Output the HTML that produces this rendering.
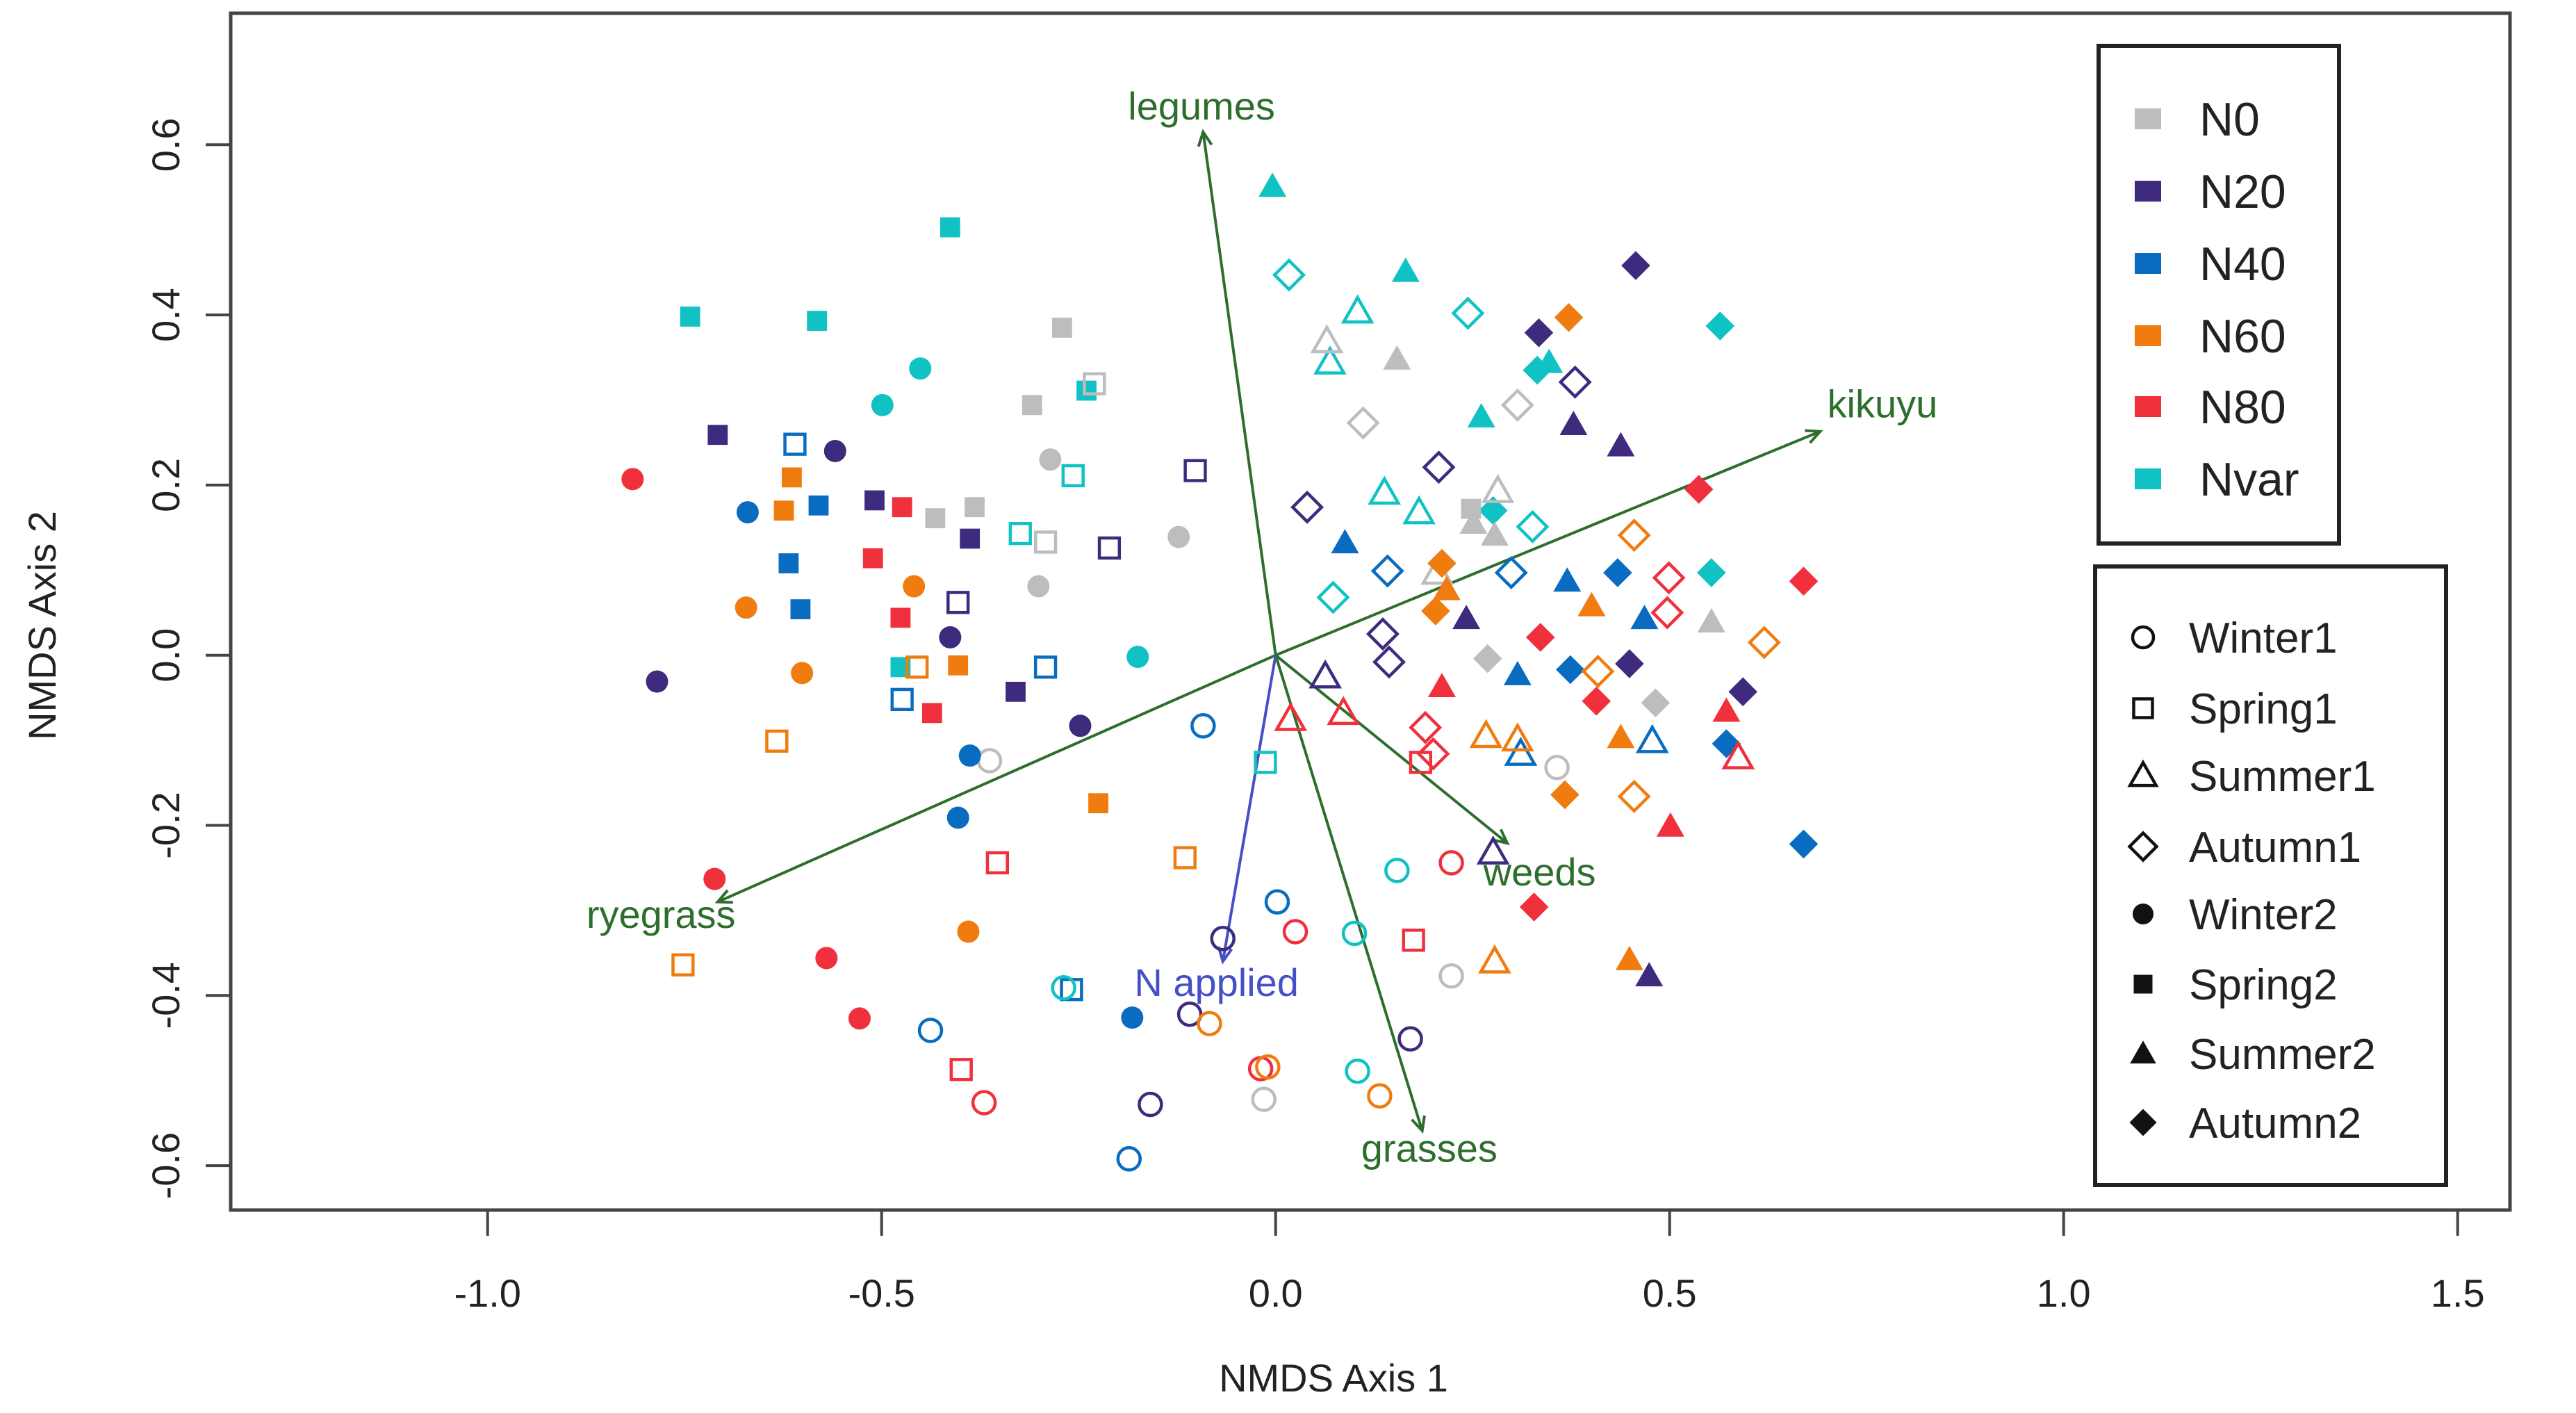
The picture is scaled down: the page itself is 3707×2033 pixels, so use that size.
<!DOCTYPE html>
<html><head><meta charset="utf-8"><style>
html,body{margin:0;padding:0;background:#fff;}
svg{display:block;font-family:"Liberation Sans",Arial,sans-serif;}
</style></head><body>
<svg id="chart" width="3707" height="2033" viewBox="0 0 3707 2033" xmlns="http://www.w3.org/2000/svg">
<rect x="0" y="0" width="3707" height="2033" fill="#fff"/>
<rect x="332" y="19" width="3280" height="1722" fill="none" stroke="#444" stroke-width="5"/>
<g id="axes"></g>
<g id="arrows"></g>
<g id="points"></g>
<text x="1919" y="2002" font-size="56" text-anchor="middle" fill="#222">NMDS Axis 1</text>
<text x="0" y="0" font-size="56" text-anchor="middle" fill="#222" transform="translate(80,900) rotate(-90)">NMDS Axis 2</text>
<rect x="3020" y="66" width="346" height="716" fill="#fff" stroke="#222" stroke-width="6"/>
<rect x="3015" y="815" width="505" height="890" fill="#fff" stroke="#222" stroke-width="6"/>
<g id="legend"></g>
</svg>
<script>
const NS='http://www.w3.org/2000/svg';
const groupNames=['N0','N20','N40','N60','N80','Nvar'];
const groupColors=['#bdbdbd','#3e2b7e','#0a6cc0','#f07c10','#f0303c','#10c2c4'];
const seasonNames=['Winter1','Spring1','Summer1','Autumn1','Winter2','Spring2','Summer2','Autumn2'];
const xTicks=[-1.0,-0.5,0.0,0.5,1.0,1.5];
const yTicks=[-0.6,-0.4,-0.2,0.0,0.2,0.4,0.6];
// points: [x, y, group index, season index (0-3 open c,s,t,d ; 4-7 filled c,s,t,d)]
const pointsX=[];const pointsY=[];const pointsG=[];const pointsS=[];
const rawPoints=[
[-0.743,0.398,5,5],[-0.413,0.503,5,5],[-0.582,0.393,5,5],[-0.240,0.311,5,5],
[-0.451,0.337,5,4],[-0.499,0.294,5,4],[-0.175,-0.002,5,4],[-0.476,-0.014,5,5],
[-0.271,0.385,0,5],[-0.309,0.294,0,5],[-0.230,0.319,0,1],[-0.286,0.230,0,4],[-0.301,0.081,0,4],[-0.123,0.139,0,4],
[-0.382,0.174,0,5],[-0.432,0.161,0,5],[-0.292,0.133,0,1],[-0.363,-0.124,0,0],
[-0.708,0.259,1,5],[-0.509,0.182,1,5],[-0.388,0.137,1,5],[-0.330,-0.043,1,5],
[-0.559,0.240,1,4],[-0.413,0.021,1,4],[-0.248,-0.083,1,4],[-0.785,-0.031,1,4],
[-0.102,0.217,1,1],[-0.403,0.062,1,1],[-0.211,0.126,1,1],
[-0.580,0.176,2,5],[-0.618,0.108,2,5],[-0.603,0.054,2,5],
[-0.670,0.168,2,4],[-0.388,-0.118,2,4],[-0.403,-0.191,2,4],[-0.182,-0.426,2,4],
[-0.610,0.248,2,1],[-0.474,-0.052,2,1],[-0.292,-0.014,2,1],[-0.259,-0.393,2,1],
[-0.816,0.207,4,4],[-0.712,-0.263,4,4],[-0.570,-0.356,4,4],[-0.528,-0.427,4,4],
[-0.511,0.114,4,5],[-0.474,0.174,4,5],[-0.476,0.044,4,5],[-0.436,-0.068,4,5],[-0.353,-0.244,4,1],
[-0.614,0.209,3,5],[-0.624,0.170,3,5],[-0.403,-0.012,3,5],[-0.225,-0.174,3,5],
[-0.672,0.056,3,4],[-0.459,0.081,3,4],[-0.601,-0.021,3,4],[-0.390,-0.325,3,4],
[-0.633,-0.101,3,1],[-0.752,-0.364,3,1],[-0.455,-0.014,3,1],[-0.115,-0.238,3,1],
[-0.257,0.211,5,1],[-0.324,0.143,5,1],[-0.013,-0.126,5,1],
[-0.269,-0.391,5,0],[0.100,-0.327,5,0],[0.104,-0.489,5,0],[0.154,-0.253,5,0],
[-0.438,-0.441,2,0],[-0.186,-0.592,2,0],[-0.092,-0.083,2,0],[0.002,-0.290,2,0],
[-0.159,-0.528,1,0],[-0.109,-0.422,1,0],[-0.067,-0.333,1,0],[0.171,-0.451,1,0],
[-0.370,-0.526,4,0],[-0.019,-0.486,4,0],[0.025,-0.325,4,0],[0.223,-0.244,4,0],
[-0.084,-0.433,3,0],[-0.010,-0.484,3,0],[0.132,-0.518,3,0],
[-0.015,-0.522,0,0],[0.223,-0.377,0,0],[0.357,-0.132,0,0],
[-0.399,-0.487,4,1],[0.175,-0.335,4,1],[0.184,-0.126,4,1],
[-0.004,0.551,5,6],[0.165,0.451,5,6],[0.261,0.280,5,6],[0.347,0.344,5,6],
[0.332,0.335,5,7],[0.564,0.387,5,7],[0.553,0.097,5,7],[0.276,0.170,5,7],
[0.017,0.447,5,3],[0.244,0.402,5,3],[0.073,0.068,5,3],[0.326,0.151,5,3],
[0.104,0.404,5,2],[0.069,0.344,5,2],[0.138,0.191,5,2],[0.182,0.168,5,2],
[0.065,0.369,0,2],[0.282,0.193,0,2],[0.111,0.273,0,3],[0.307,0.294,0,3],
[0.154,0.348,0,6],[0.251,0.155,0,6],[0.278,0.141,0,6],[0.248,0.172,0,5],
[0.269,-0.004,0,7],[0.482,-0.056,0,7],[0.553,0.039,0,6],[0.205,0.097,0,2],
[0.334,0.379,1,7],[0.457,0.458,1,7],[0.449,-0.010,1,7],[0.593,-0.043,1,7],
[0.378,0.271,1,6],[0.438,0.246,1,6],[0.242,0.043,1,6],[0.474,-0.377,1,6],
[0.380,0.321,1,3],[0.207,0.221,1,3],[0.040,0.174,1,3],[0.136,0.025,1,3],[0.144,-0.008,1,3],
[0.063,-0.025,1,2],[0.276,-0.232,1,2],
[0.088,0.132,2,6],[0.370,0.087,2,6],[0.307,-0.023,2,6],[0.468,0.043,2,6],
[0.434,0.097,2,7],[0.374,-0.017,2,7],[0.572,-0.104,2,7],[0.670,-0.222,2,7],
[0.142,0.099,2,3],[0.299,0.097,2,3],[0.478,-0.101,2,2],[0.311,-0.116,2,2],
[0.372,0.397,3,7],[0.367,-0.164,3,7],[0.211,0.108,3,7],[0.203,0.052,3,7],
[0.217,0.077,3,6],[0.401,0.058,3,6],[0.438,-0.097,3,6],[0.449,-0.358,3,6],
[0.455,0.141,3,3],[0.409,-0.019,3,3],[0.455,-0.166,3,3],[0.620,0.015,3,3],
[0.267,-0.095,3,2],[0.307,-0.099,3,2],[0.278,-0.360,3,2],
[0.537,0.195,4,7],[0.670,0.087,4,7],[0.328,-0.296,4,7],[0.336,0.021,4,7],[0.407,-0.054,4,7],
[0.572,-0.066,4,6],[0.501,-0.201,4,6],[0.211,-0.037,4,6],
[0.499,0.091,4,3],[0.497,0.050,4,3],[0.190,-0.085,4,3],[0.200,-0.116,4,3],
[0.587,-0.120,4,2],[0.019,-0.075,4,2],[0.086,-0.068,4,2]
];
const arrowNames=['legumes','kikuyu','ryegrass','weeds','grasses','N applied'];
const arrowX=[-0.092,0.691,-0.708,0.294,0.186,-0.067];
const arrowY=[0.615,0.263,-0.290,-0.221,-0.559,-0.360];
const arrowLabelX=[-0.094,0.77,-0.78,0.335,0.195,-0.075];
const arrowLabelY=[0.645,0.295,-0.305,-0.255,-0.580,-0.385];
const arrowColors=['#2d6e2d','#2d6e2d','#2d6e2d','#2d6e2d','#2d6e2d','#4550c8'];

rawPoints.forEach(p=>{pointsX.push(p[0]);pointsY.push(p[1]);pointsG.push(p[2]);pointsS.push(p[3]);});
const X=v=>1835.7+v*1134;
const Y=v=>942.7-v*1224;
function el(tag,attrs,parent){const e=document.createElementNS(NS,tag);for(const k in attrs)e.setAttribute(k,attrs[k]);parent.appendChild(e);return e;}
const axes=document.getElementById('axes');
xTicks.forEach(t=>{
  const l=el('line',{x1:X(t),x2:X(t),y1:1741,y2:1778,stroke:'#444','stroke-width':4},axes);
  
  
  const tx=el('text',{x:X(t),y:1880,'font-size':56,'text-anchor':'middle',fill:'#222'},axes);
  tx.textContent=t.toFixed(1);
  
  
});
yTicks.forEach(t=>{
  const l=el('line',{x1:296,x2:332,y1:Y(t),y2:Y(t),stroke:'#444','stroke-width':4},axes);
  
  
  const tx=el('text',{x:0,y:0,'font-size':56,'text-anchor':'middle',fill:'#222',transform:`translate(258,${Y(t)}) rotate(-90)`},axes);
  tx.textContent=t.toFixed(1);
  
  
});
function marker(parent,cx,cy,s,color,r){
  const filled=s>=4;const k=s%4;
  const fill=filled?color:'none';const sw=filled?0:4.5;
  let m;
  if(k===0)m=el('circle',{cx:cx,cy:cy,r:r,fill:fill,stroke:color,'stroke-width':sw},parent);
  else if(k===1)m=el('rect',{x:cx-r*0.9,y:cy-r*0.9,width:r*1.8,height:r*1.8,fill:fill,stroke:color,'stroke-width':sw},parent);
  else if(k===2){const h=r*1.25;m=el('polygon',{points:`${cx},${cy-h} ${cx+h},${cy+h*0.75} ${cx-h},${cy+h*0.75}`,fill:fill,stroke:color,'stroke-width':sw},parent);}
  else {const h=r*1.3;m=el('polygon',{points:`${cx},${cy-h} ${cx+h},${cy} ${cx},${cy+h} ${cx-h},${cy}`,fill:fill,stroke:color,'stroke-width':sw},parent);}
  return m;
}
const pts=document.getElementById('points');
for(let i=0;i<pointsX.length;i++){
  const m=marker(pts,X(pointsX[i]),Y(pointsY[i]),pointsS[i],groupColors[pointsG[i]],16);
  
  
}
const arr=document.getElementById('arrows');
for(let i=0;i<arrowNames.length;i++){
  const x0=X(0),y0=Y(0),x1=X(arrowX[i]),y1=Y(arrowY[i]);
  const ln=el('line',{x1:x0,y1:y0,x2:x1,y2:y1,stroke:arrowColors[i],'stroke-width':4},arr);
  
  
  const a=Math.atan2(y1-y0,x1-x0),L=22;
  const hd=el('polyline',{points:`${x1-L*Math.cos(a-0.45)},${y1-L*Math.sin(a-0.45)} ${x1},${y1} ${x1-L*Math.cos(a+0.45)},${y1-L*Math.sin(a+0.45)}`,fill:'none',stroke:arrowColors[i],'stroke-width':4},arr);
  
  
  const t=el('text',{x:X(arrowLabelX[i]),y:Y(arrowLabelY[i])+19,'font-size':56,'text-anchor':'middle',fill:arrowColors[i]},arr);
  t.textContent=arrowNames[i];
  
  
}
const lg=document.getElementById('legend');
const row1=[171,275,379,483,585,689];
groupNames.forEach((n,i)=>{
  const r=el('rect',{x:3072,y:row1[i]-15,width:38,height:30,fill:groupColors[i]},lg);
  
  
  const t=el('text',{x:3165,y:row1[i]+24,'font-size':68,fill:'#222'},lg);
  t.textContent=n;
  
  
});
const row2=[917,1019,1116,1218,1315,1416,1516,1615];
seasonNames.forEach((n,i)=>{
  const m=marker(lg,3084,row2[i],i,'#111',15);
  
  
  const t=el('text',{x:3150,y:row2[i]+22,'font-size':62,fill:'#222'},lg);
  t.textContent=n;
  
  
});
</script>
</body></html>
